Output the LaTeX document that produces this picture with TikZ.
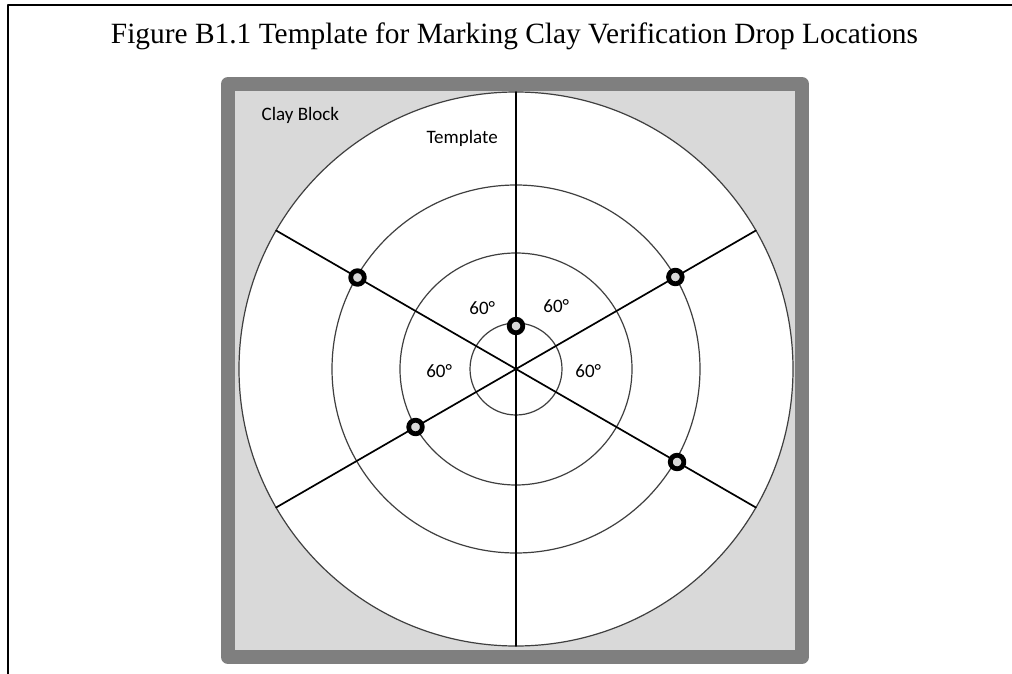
\documentclass[tikz,border=0pt]{standalone}
\usepackage{fontspec}
\setmainfont{Liberation Serif}
\newfontfamily\calibri{Carlito}
\definecolor{blockgray}{HTML}{D9D9D9}
\definecolor{rimgray}{HTML}{7F7F7F}
\definecolor{ringgray}{HTML}{3F3F3F}
\begin{document}
\begin{tikzpicture}[x=1pt, y=-1pt, line join=round, line cap=round,
	ring/.style={draw=ringgray, line width=1.2pt},
	spoke/.style={draw=black, line width=1.7pt},
	drop/.style={draw=black, fill=blockgray, line width=4.8pt},
	lbl/.style={font=\calibri\fontsize{19}{22}\selectfont, inner sep=0pt, anchor=base}]
				\useasboundingbox (0,0) rectangle (1012,674);
				% Khung bảng
				\draw[line width=2pt, line cap=butt] (7.7,674) -- (7.7,5.3) -- (1012,5.3);
				
				% Tiêu đề
				\node[font=\fontsize{29.4}{33}\selectfont, inner sep=0pt, anchor=base] (title) at (514.5,43.3) {Figure B1.1 Template for Marking Clay Verification Drop Locations};
				
				% Khối đất sét
				\draw[rimgray, fill=blockgray, line width=14pt] (228,84) rectangle (802,657);
				
				% Tâm O và các đường tròn
				\coordinate (O) at (516,369);
				\fill[white] (O) circle (277pt);
				\draw[ring] (O) circle (277pt);
				\draw[ring] (O) circle (184pt);
				\draw[ring] (O) circle (116pt);
				\draw[ring] (O) circle (46pt);
				
				% Các đường kính cách nhau 60 độ
				\coordinate (T) at ([shift={(90:277pt)}]O);
				\coordinate (S) at ([shift={(270:277pt)}]O);
				\coordinate (P1) at ([shift={(30:277pt)}]O);
				\coordinate (P2) at ([shift={(210:277pt)}]O);
				\coordinate (Q1) at ([shift={(150:277pt)}]O);
				\coordinate (Q2) at ([shift={(330:277pt)}]O);
				\draw[spoke] (T) -- (S);
				\draw[spoke] (P1) -- (P2);
				\draw[spoke] (Q1) -- (Q2);
				
				% Các điểm thả
				\draw[drop] ([shift={(150:183pt)}]O) circle (6.8pt);
				\draw[drop] ([shift={(30:184pt)}]O) circle (6.8pt);
				\draw[drop] ([shift={(90:43pt)}]O) circle (6.8pt);
				\draw[drop] ([shift={(210:116pt)}]O) circle (6.8pt);
				\draw[drop] ([shift={(330:186pt)}]O) circle (6.8pt);
				
				% Nhãn
				\node[lbl] (clay) at (300.4,120.7) {Clay Block};
				\node[lbl] (tmpl) at (462.2,143.3) {Template};
				\node[lbl] (a1) at (482.3,314.3) {60°};
				\node[lbl] (a2) at (556.3,312.7) {60°};
				\node[lbl] (a3) at (439.2,377.3) {60°};
				\node[lbl] (a4) at (588.3,377.3) {60°};
			\end{tikzpicture}
\end{document}
